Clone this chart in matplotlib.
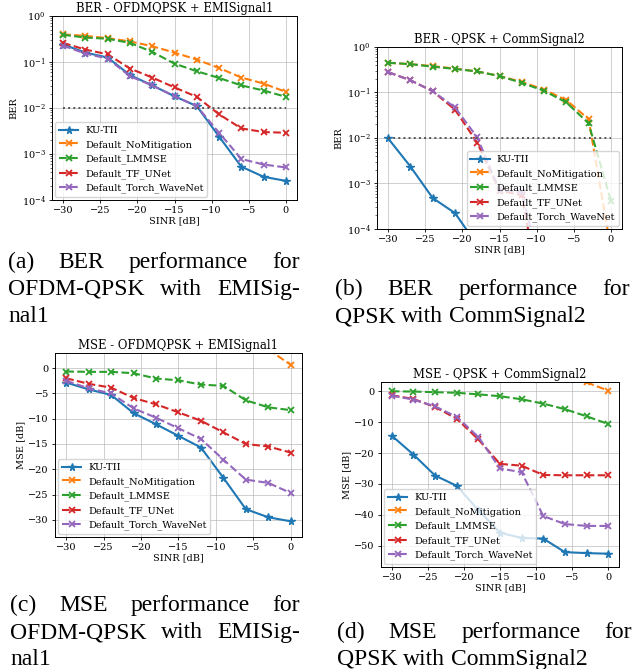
import numpy as np
import matplotlib
matplotlib.use('Agg')
import matplotlib.pyplot as plt

# SINR grid shared by all four panels
sinr = [-30, -27, -24, -21, -18, -15, -12, -9, -6, -3, 0]
labels = ['KU-TII', 'Default_NoMitigation', 'Default_LMMSE',
          'Default_TF_UNet', 'Default_Torch_WaveNet']

nan = np.nan

# (a) BER - OFDMQPSK + EMISignal1
ber_a_ku = [0.24, 0.16, 0.125, 0.052, 0.031, 0.018, 0.011, 0.0024, 5.3e-4, 3.2e-4, 2.6e-4]
ber_a_nomit = [0.40, 0.37, 0.33, 0.28, 0.22, 0.16, 0.113, 0.074, 0.046, 0.034, 0.0224]
ber_a_lmmse = [0.39, 0.34, 0.32, 0.26, 0.166, 0.092, 0.063, 0.045, 0.031, 0.024, 0.0175]
ber_a_unet = [0.26, 0.186, 0.147, 0.072, 0.046, 0.028, 0.0175, 0.0073, 0.0036, 0.0030, 0.0029]
ber_a_wave = [0.227, 0.152, 0.119, 0.049, 0.031, 0.018, 0.011, 0.0029, 7.8e-4, 5.9e-4, 5.1e-4]

# (b) BER - QPSK + CommSignal2
ber_b_ku = [0.0098, 0.00236, 4.8e-4, 2.24e-4, 4.5e-5, nan, nan, nan, nan, nan, nan]
ber_b_nomit = [0.45, 0.42, 0.38, 0.336, 0.29, 0.23, 0.171, 0.116, 0.068, 0.026, 3.7e-5]
ber_b_lmmse = [0.45, 0.42, 0.37, 0.33, 0.29, 0.23, 0.163, 0.109, 0.0606, 0.021, 4.2e-4]
ber_b_unet = [0.28, 0.186, 0.107, 0.042, 0.0079, 7.0e-4, 5.5e-4, 1.3e-6, nan, nan, nan]
ber_b_wave = [0.28, 0.186, 0.107, 0.047, 0.0103, 7.2e-4, 6.4e-4, 6.7e-6, nan, nan, nan]

# (c) MSE - OFDMQPSK + EMISignal1
mse_c_ku = [-2.85, -4.2, -5.3, -8.9, -11.1, -13.4, -15.7, -21.7, -27.9, -29.5, -30.3]
mse_c_nomit = [nan, nan, nan, nan, nan, nan, nan, nan, nan, 3.7, 0.66]
mse_c_lmmse = [-0.66, -0.73, -0.73, -1.0, -2.05, -2.4, -3.25, -3.5, -6.36, -7.75, -8.3]
mse_c_unet = [-2.0, -3.1, -3.85, -5.9, -7.15, -8.75, -10.4, -12.7, -15.0, -15.5, -16.7]
mse_c_wave = [-2.5, -4.0, -5.0, -7.95, -9.8, -11.9, -14.0, -18.1, -22.05, -22.7, -24.7]

# (d) MSE - QPSK + CommSignal2
mse_d_ku = [-14.4, -20.5, -27.3, -30.6, -38.5, -45.8, -47.5, -47.7, -52.1, -52.4, -52.6]
mse_d_nomit = [nan, nan, nan, nan, nan, nan, nan, nan, nan, 2.9, 0.2]
mse_d_lmmse = [0.0, -0.1, -0.3, -0.5, -1.0, -1.6, -2.6, -4.0, -5.8, -8.1, -10.6]
mse_d_unet = [-1.3, -2.5, -5.1, -8.9, -15.6, -23.5, -24.1, -27.1, -27.2, -27.2, -27.2]
mse_d_wave = [-1.4, -2.7, -4.9, -8.3, -14.8, -25.0, -26.2, -40.4, -43.0, -43.6, -43.6]

ber_threshold = 1e-2

captions = {
    'a': [['(a)', 'BER', 'performance', 'for'], ['OFDM-QPSK', 'with', 'EMISig-'], ['nal1']],
    'b': [['(b)', 'BER', 'performance', 'for'], ['QPSK', 'with', 'CommSignal2']],
    'c': [['(c)', 'MSE', 'performance', 'for'], ['OFDM-QPSK', 'with', 'EMISig-'], ['nal1']],
    'd': [['(d)', 'MSE', 'performance', 'for'], ['QPSK', 'with', 'CommSignal2']],
}

W, H = 637, 669
plt.rcParams['font.family'] = 'DejaVu Serif'
plt.rcParams['mathtext.fontset'] = 'dejavuserif'
plt.rcParams['font.size'] = 7
plt.rcParams['axes.linewidth'] = 0.7

fig = plt.figure(figsize=(W / 100, H / 100), dpi=100)


def px_axes(left, top, right, bottom):
    return fig.add_axes([left / W, 1 - bottom / H, (right - left) / W, (bottom - top) / H])


def draw_panel(ax, series, title, ylabel, log=False, legend_loc='lower left'):
    for i, (vals, lab) in enumerate(zip(series, labels)):
        if i == 0:
            ax.plot(sinr, vals, '-', marker='*', color='C0', lw=1.5, ms=5.5, label=lab)
        else:
            ax.plot(sinr, vals, '--', marker='x', color=f'C{i}', lw=1.5, ms=5,
                    mew=1.3, label=lab)
    if log:
        ax.set_yscale('log')
        ax.plot([sinr[0], sinr[-1]], [ber_threshold, ber_threshold], ':',
                color='#555555', lw=1.4)
        ax.set_ylim(1e-4, 1)
    ax.set_xlim(-31.5, 1.5)
    ax.set_title(title, fontsize=8.4, pad=3)
    ax.set_xlabel('SINR [dB]', labelpad=1)
    ax.set_ylabel(ylabel, labelpad=2)
    ax.grid(True, color='#b0b0b0', lw=0.6, alpha=0.7)
    ax.tick_params(labelsize=7, width=0.6, length=2.5, pad=2)
    ax.tick_params(which='minor', width=0.4, length=1.5)
    ax.legend(loc=legend_loc, fontsize=7, handlelength=2.0, borderpad=0.4,
              labelspacing=0.5, handletextpad=0.7, borderaxespad=0.3)


ax_a = px_axes(52, 16, 297, 200)
draw_panel(ax_a, [ber_a_ku, ber_a_nomit, ber_a_lmmse, ber_a_unet, ber_a_wave],
           'BER - OFDMQPSK + EMISignal1', 'BER', log=True)

ax_b = px_axes(377, 47, 622, 229)
draw_panel(ax_b, [ber_b_ku, ber_b_nomit, ber_b_lmmse, ber_b_unet, ber_b_wave],
           'BER - QPSK + CommSignal2', 'BER', log=True, legend_loc='lower right')

ax_c = px_axes(55, 353, 302, 537)
draw_panel(ax_c, [mse_c_ku, mse_c_nomit, mse_c_lmmse, mse_c_unet, mse_c_wave],
           'MSE - OFDMQPSK + EMISignal1', 'MSE [dB]')
ax_c.set_ylim(-33.4, 3)

ax_d = px_axes(381, 382, 619, 567)
draw_panel(ax_d, [mse_d_ku, mse_d_nomit, mse_d_lmmse, mse_d_unet, mse_d_wave],
           'MSE - QPSK + CommSignal2', 'MSE [dB]')
ax_d.set_ylim(-56.9, 3)

renderer = fig.canvas.get_renderer()


def caption(lines, x0, x1, y0, step=27):
    """Justified caption text, last line left aligned."""
    for n, words in enumerate(lines):
        y = y0 + n * step
        texts = [fig.text(0, 1 - y / H, w, family='Liberation Serif', fontsize=17,
                          va='baseline', ha='left') for w in words]
        widths = [t.get_window_extent(renderer).width for t in texts]
        last = n == len(lines) - 1
        if last or len(words) == 1:
            gap = 17 * 100 / 72 * 0.25
        else:
            gap = (x1 - x0 - sum(widths)) / (len(words) - 1)
        x = x0
        for t, w in zip(texts, widths):
            t.set_x(x / W)
            x += w + gap


caption(captions['a'], 8, 300, 268)
caption(captions['b'], 335, 630, 295)
caption(captions['c'], 10, 300, 611)
caption(captions['d'], 337, 632, 638)

fig.savefig('out.png', dpi=100)
